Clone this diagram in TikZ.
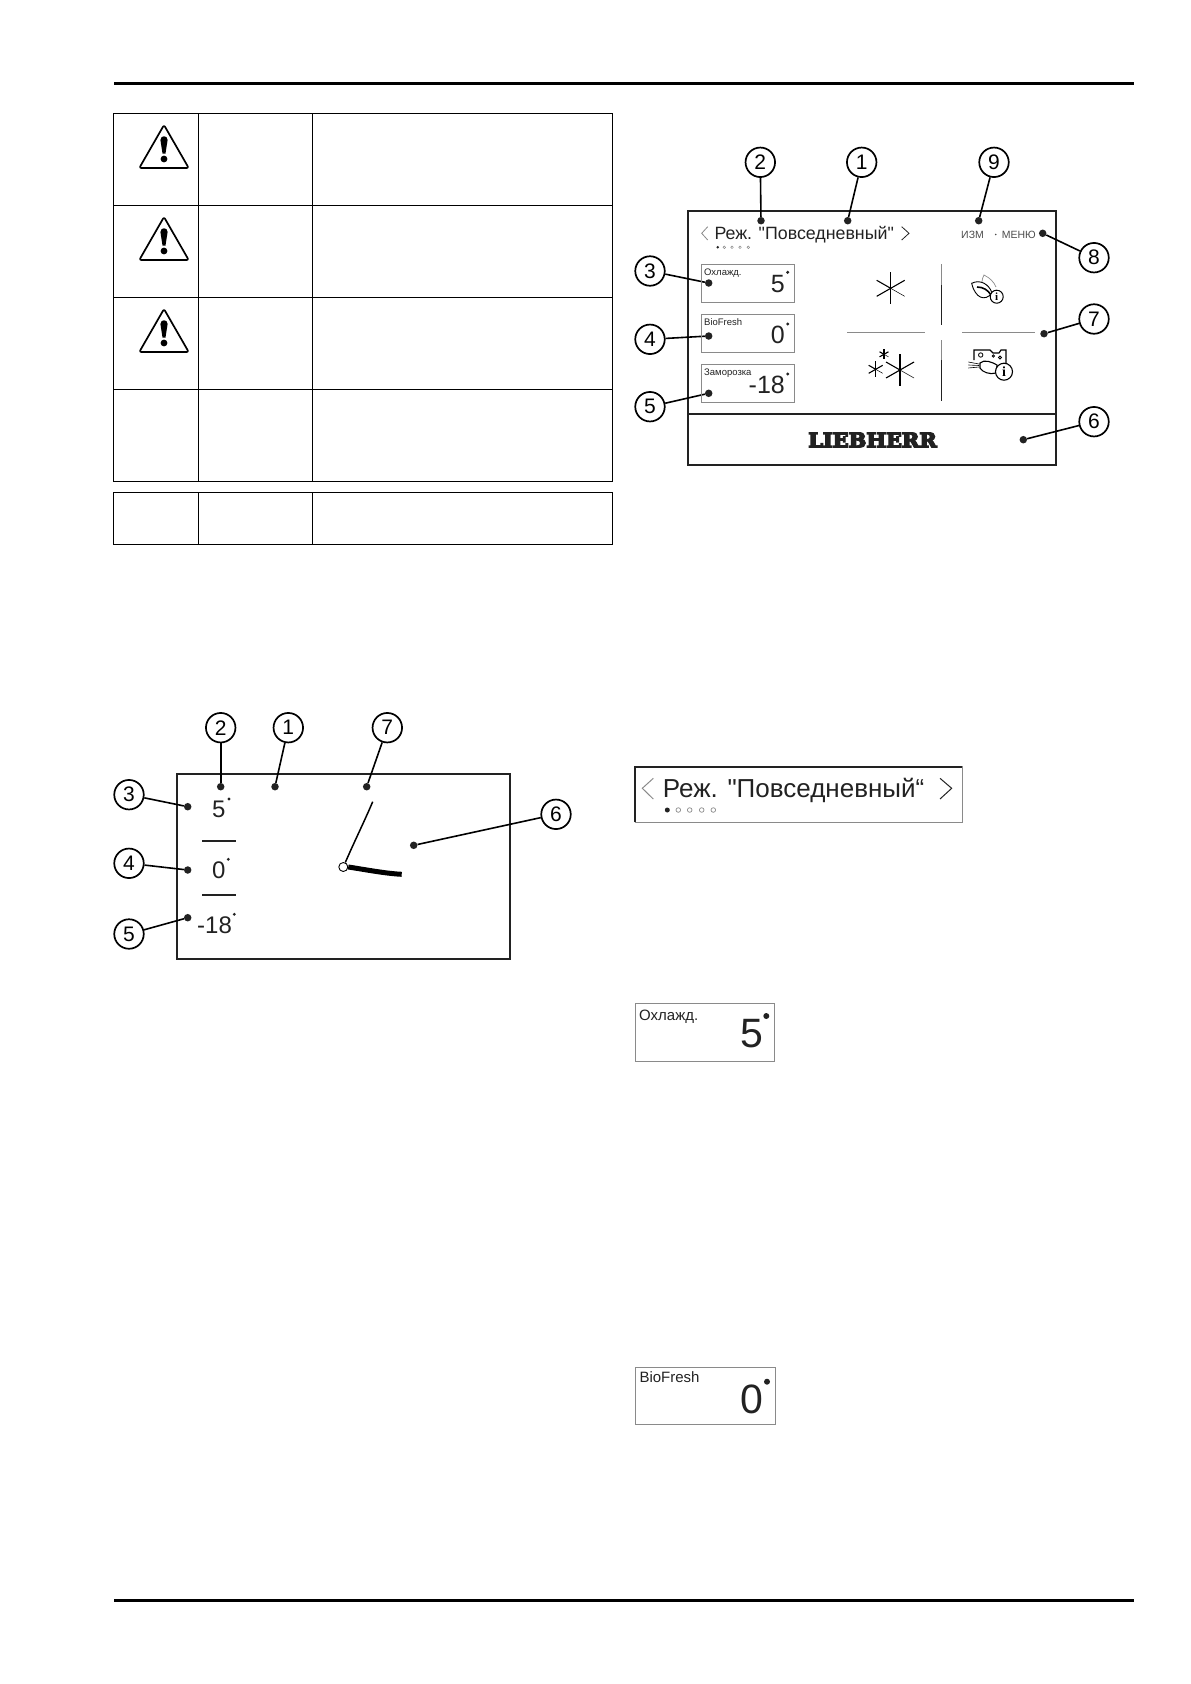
\documentclass[tikz,border=0pt]{standalone}
\usepackage{fontspec}
\defaultfontfeatures[\rmfamily]{}
\setmainfont{Liberation Sans}
\newfontfamily\logofont[BoldFeatures={FakeBold=7}]{DejaVu Serif}
\newfontfamily\infofont{Liberation Serif}
\usetikzlibrary{positioning}
\definecolor{inkgray}{HTML}{222222}
\definecolor{edgegray}{HTML}{8A8A8A}
\tikzset{
  tcell/.style={draw, rectangle, line width=1.3pt, inner sep=0pt, outer sep=0pt, anchor=north west},
  frame/.style={draw=inkgray, rectangle, line width=1.9pt, inner sep=0pt, outer sep=0pt, anchor=north west},
  tempbox/.style={draw=edgegray, rectangle, line width=1pt, inner sep=0pt, outer sep=0pt, anchor=north west, minimum width=93pt, minimum height=38.3pt},
  bigbox/.style={draw=edgegray, rectangle, line width=1pt, inner sep=0pt, outer sep=0pt, anchor=north west},
  numc/.style={draw, circle, line width=1.7pt, minimum size=29.5pt, inner sep=0pt, font=\fontsize{21}{21}\selectfont},
  pdot/.style={fill=inkgray, circle, minimum size=7.5pt, inner sep=0pt},
  sdot/.style={fill=inkgray, circle, minimum size=3.2pt, inner sep=0pt},
  bdot/.style={fill=inkgray, circle, minimum size=6pt, inner sep=0pt},
  odot/.style={draw=edgegray, circle, line width=.5pt, minimum size=2.6pt, inner sep=0pt},
  odotb/.style={draw=edgegray, circle, line width=.7pt, minimum size=4.6pt, inner sep=0pt},
  lead/.style={line width=1.6pt},
  rule/.style={line width=3pt},
  txt/.style={text=inkgray, inner sep=0pt, anchor=base west},
  chev/.style={line width=.8pt},
  sep/.style={draw=edgegray, line width=.8pt},
  warnsign/.pic={
    \draw[line width=1.7pt, rounded corners=2pt, line join=round] (0,0) -- (24.7,43) -- (-24.7,43) -- cycle;
    \fill (-3.6,15) .. controls (-3.6,10) and (3.6,10) .. (3.6,15) -- (1.5,28.5) -- (-1.5,28.5) -- cycle;
    \fill (0,34) circle (3.4);
  },
  flake/.pic={
    \draw[line width=1.1pt] (0,-16) -- (0,16);
    \draw[line width=1.1pt] (-14,8) -- (14,-8);
    \draw[line width=1.1pt] (-14,-8) -- (0,0);
    \draw[line width=.5pt] (0,0) -- (14,8);
  },
}
\begin{document}
\begin{tikzpicture}[x=1pt, y=-1pt]
\useasboundingbox (0,0) rectangle (1191,1684);

\coordinate (ruleAl) at (114,83);
\coordinate (ruleAr) at (1134,83);
\coordinate (ruleBl) at (114,1600);
\coordinate (ruleBr) at (1134,1600);
\draw[rule] (ruleAl) -- (ruleAr);
\draw[rule] (ruleBl) -- (ruleBr);

% table
\node[tcell, minimum width=85pt, minimum height=92pt] (rowAa) at (113.5,113.5) {};
\node[tcell, minimum width=114pt, minimum height=92pt, right=0pt of rowAa] (rowAb) {};
\node[tcell, minimum width=300pt, minimum height=92pt, right=0pt of rowAb] (rowAc) {};
\node[tcell, minimum width=85pt, minimum height=92pt, below=0pt of rowAa] (rowBa) {};
\node[tcell, minimum width=114pt, minimum height=92pt, right=0pt of rowBa] (rowBb) {};
\node[tcell, minimum width=300pt, minimum height=92pt, right=0pt of rowBb] (rowBc) {};
\node[tcell, minimum width=85pt, minimum height=92pt, below=0pt of rowBa] (rowCa) {};
\node[tcell, minimum width=114pt, minimum height=92pt, right=0pt of rowCa] (rowCb) {};
\node[tcell, minimum width=300pt, minimum height=92pt, right=0pt of rowCb] (rowCc) {};
\node[tcell, minimum width=85pt, minimum height=92pt, below=0pt of rowCa] (rowDa) {};
\node[tcell, minimum width=114pt, minimum height=92pt, right=0pt of rowDa] (rowDb) {};
\node[tcell, minimum width=300pt, minimum height=92pt, right=0pt of rowDb] (rowDc) {};
\node[tcell, minimum width=85pt, minimum height=52pt] (rowEa) at (113.5,492.3) {};
\node[tcell, minimum width=114pt, minimum height=52pt, right=0pt of rowEa] (rowEb) {};
\node[tcell, minimum width=300pt, minimum height=52pt, right=0pt of rowEb] (rowEc) {};
\pic at (164,125) {warnsign};
\pic at (164,217) {warnsign};
\pic at (164,309) {warnsign};

% clock screen
\node[frame, minimum width=333pt, minimum height=185pt] (clock) at (177,774) {};
\node[numc] (clk2) at (220.7,727.7) {2};
\node[numc] (clk1) at (288.3,727.7) {1};
\node[numc] (clk7) at (387.3,727.7) {7};
\node[numc] (clk3) at (129,794.7) {3};
\node[numc] (clk4) at (129,863.3) {4};
\node[numc] (clk5) at (129,934) {5};
\node[numc] (clk6) at (556,814.3) {6};
\node[pdot] (clkd2) at (220.7,786.7) {};
\node[pdot] (clkd1) at (275,786.7) {};
\node[pdot] (clkd7) at (366.7,786.7) {};
\node[pdot] (clkd3) at (187.7,806.7) {};
\node[pdot] (clkd4) at (187.7,870) {};
\node[pdot] (clkd5) at (187.7,917.7) {};
\node[pdot] (clkd6) at (413.7,845.3) {};
\draw[lead] (clk2) -- (clkd2);
\draw[lead] (clk1) -- (clkd1);
\draw[lead] (clk7) -- (clkd7);
\draw[lead] (clk3) -- (clkd3);
\draw[lead] (clk4) -- (clkd4);
\draw[lead] (clk5) -- (clkd5);
\draw[lead] (clk6) -- (clkd6);
\node[txt, font=\fontsize{24}{24}\selectfont] (clktA) at (212,817) {5};
\node[txt, font=\fontsize{24}{24}\selectfont] (clktB) at (212,878) {0};
\node[txt, font=\fontsize{24}{24}\selectfont] (clktC) at (197,933) {-18};
\node[sdot] (clkdgA) at (229,799) {};
\node[sdot] (clkdgB) at (228.3,859.3) {};
\node[sdot] (clkdgC) at (234.3,914.3) {};
\coordinate (clkAl) at (202.3,841);
\coordinate (clkAr) at (236,841);
\coordinate (clkBl) at (202.3,895);
\coordinate (clkBr) at (236,895);
\draw[line width=1.1pt, inkgray] (clkAl) -- (clkAr);
\draw[line width=1.1pt, inkgray] (clkBl) -- (clkBr);
\node[draw, fill=white, circle, line width=.9pt, minimum size=9pt, inner sep=0pt] (hub) at (343.3,867) {};
\coordinate (handA) at (372.7,801.7);
\coordinate (handB) at (401.7,874.3);
\draw[line width=1.5pt] (hub) .. controls (356,838) and (365,820) .. (handA);
\draw[line width=5pt] (hub.east) .. controls (362,869) and (385,873.5) .. (handB);

% home screen
\node[frame, minimum width=368pt, minimum height=253.7pt] (home) at (688,211.3) {};
\coordinate (homeL) at (688,414);
\coordinate (homeR) at (1056,414);
\draw[line width=1.9pt, inkgray] (homeL) -- (homeR);
\node[numc] (hom2) at (760.3,162.3) {2};
\node[numc] (hom1) at (861.7,162.3) {1};
\node[numc] (hom9) at (994,162.3) {9};
\node[numc] (hom8) at (1094,257.7) {8};
\node[numc] (hom3) at (650,271) {3};
\node[numc] (hom4) at (650,339.3) {4};
\node[numc] (hom5) at (650,406.7) {5};
\node[numc] (hom7) at (1094,319) {7};
\node[numc] (hom6) at (1094,421.7) {6};
\node[txt, font=\fontsize{17.8}{18}\selectfont] (homtitle) at (714.3,239.3) {Реж. "Повседневный"};
\node[pdot] (homd2) at (761,220.7) {};
\node[pdot] (homd1) at (847.7,220.7) {};
\node[pdot] (homd9) at (978.7,220.7) {};
\node[pdot] (homd8) at (1042.7,233.3) {};
\node[pdot] (homd3) at (708.7,283) {};
\node[pdot] (homd4) at (708.7,336) {};
\node[pdot] (homd5) at (708.7,393.3) {};
\node[pdot] (homd7) at (1044,333.7) {};
\node[pdot] (homd6) at (1023.3,439.7) {};
\draw[lead] (hom2) -- (homd2);
\draw[lead] (hom1) -- (homd1);
\draw[lead] (hom9) -- (homd9);
\draw[lead] (hom8) -- (homd8);
\draw[lead] (hom3) -- (homd3);
\draw[lead] (hom4) -- (homd4);
\draw[lead] (hom5) -- (homd5);
\draw[lead] (hom7) -- (homd7);
\draw[lead] (hom6) -- (homd6);
\draw[chev, edgegray] (707.7,226.7) -- (701.7,233.3) -- (707.7,240);
\draw[chev, inkgray] (901.7,226.7) -- (909,233.3) -- (901.7,240);
\node[sdot, minimum size=2.8pt] (homp1) at (717.7,247.3) {};
\node[odot] (homp2) at (724.3,247.3) {};
\node[odot] (homp3) at (732,247.3) {};
\node[odot] (homp4) at (740,247.3) {};
\node[odot] (homp5) at (748.3,247.3) {};
\node[txt, text=black!70, font=\fontsize{10.5}{10.5}\selectfont] (homchg) at (961,238.7) {ИЗМ};
\node[sdot, minimum size=1.6pt, fill=black!70] (homsep) at (995.7,234.5) {};
\node[txt, text=black!70, font=\fontsize{10.5}{10.5}\selectfont] (hommenu) at (1001.7,238.7) {МЕНЮ};

\node[tempbox] (boxA) at (701.3,264) {};
\node[tempbox] (boxB) at (701.3,314.3) {};
\node[tempbox] (boxC) at (701.3,364.3) {};
\node[txt, font=\fontsize{9.5}{9.5}\selectfont] (boxAl) at (704,275) {Охлажд.};
\node[txt, font=\fontsize{9.5}{9.5}\selectfont] (boxBl) at (704,325) {BioFresh};
\node[txt, font=\fontsize{9.5}{9.5}\selectfont] (boxCl) at (704,375) {Заморозка};
\node[txt, anchor=base east, font=\fontsize{25}{25}\selectfont] (boxAn) at (785,292.3) {5};
\node[txt, anchor=base east, font=\fontsize{25}{25}\selectfont] (boxBn) at (785,343) {0};
\node[txt, anchor=base east, font=\fontsize{25}{25}\selectfont] (boxCn) at (785,393.3) {-18};
\node[bdot, minimum size=3.4pt] (boxAd) at (787.7,272.3) {};
\node[bdot, minimum size=3.4pt] (boxBd) at (787.7,324) {};
\node[bdot, minimum size=3.4pt] (boxCd) at (787.7,374) {};

\coordinate (sepAt) at (941.3,264.3);
\coordinate (sepAm) at (941.3,285);
\coordinate (sepAb) at (941.3,325);
\coordinate (sepBt) at (941.3,340);
\coordinate (sepBm) at (941.3,360);
\coordinate (sepBb) at (941.3,400.7);
\coordinate (sepCl) at (847.3,332.3);
\coordinate (sepCr) at (924.7,332.3);
\coordinate (sepDl) at (962.3,332.3);
\coordinate (sepDr) at (1035,332.3);
\draw[sep] (sepAt) -- (sepAm);
\draw[line width=1pt, inkgray] (sepAm) -- (sepAb);
\draw[sep] (sepBt) -- (sepBm);
\draw[line width=1pt, inkgray] (sepBm) -- (sepBb);
\draw[sep] (sepCl) -- (sepCr);
\draw[sep] (sepDl) -- (sepDr);

\pic at (890.7,288.3) {flake};
\pic at (900,370) {flake};
\pic[scale=.5] at (875.7,369.3) {flake};
\pic[scale=.32, line width=1.6pt] at (884,354.3) {flake};

% leaf icon
\draw[line width=.7pt, edgegray] (982,283) .. controls (982,279) and (983,277) .. (984,275) .. controls (990,278) and (994,282) .. (996,287);
\draw[line width=.9pt, fill=white] (971.7,283.3) .. controls (980,279) and (989,284) .. (992,293) .. controls (985,302) and (975,298) .. cycle;
\draw[line width=1.6pt] (977,287) .. controls (983,287) and (988,290) .. (991,295);
\node[draw, fill=white, circle, line width=1pt, minimum size=13pt, inner sep=0pt, font=\infofont\bfseries\fontsize{11}{11}\selectfont] (leafinfo) at (996.7,296.7) {i};

% cheese icon
\draw[line width=1.2pt] (974,360) -- (974,350) -- (990,350) -- (993,353) -- (999,353) -- (1001,350) -- (1006,350) -- (1006,363);
\draw[line width=.8pt] (980.7,355) circle (2.2);
\draw[line width=.8pt] (993.3,356) circle (1.2);
\draw[line width=.8pt] (1000,357.5) circle (1.5);
\draw[line width=1.1pt, fill=white] (980,363) .. controls (984,359) and (992,362) .. (997,365) -- (996,373) .. controls (990,375) and (982,372) .. (980,368) -- cycle;
\draw[line width=.6pt] (968.3,362) -- (979,364);
\draw[line width=.6pt] (968.3,365) -- (979,365.5);
\draw[line width=.6pt] (968.3,368) -- (979,367);
\node[draw, fill=white, circle, line width=1.1pt, minimum size=17pt, inner sep=0pt, font=\infofont\bfseries\fontsize{14}{14}\selectfont] (cheeseinfo) at (1004,371.7) {i};

\node[inner sep=0pt, text=inkgray] (logo) at (872.5,440) {\resizebox{128.4pt}{14.5pt}{\logofont\bfseries LIEBHERR}};

% title bar
\node[bigbox, minimum width=327pt, minimum height=55.6pt] (bar) at (635,766.7) {};
\draw[line width=1.9pt, inkgray] (bar.south west) -- (bar.north west) -- (bar.north east);
\node[txt, font=\fontsize{26}{26}\selectfont] (bartitle) at (662.7,797.7) {Реж. "Повседневный“};
\draw[line width=1pt, edgegray] (653.3,778.3) -- (642.3,788.3) -- (653.3,799);
\draw[line width=1pt, inkgray] (940,778.3) -- (951.7,788.3) -- (940,799);
\node[bdot, minimum size=5pt] (barp1) at (667.3,810) {};
\node[odotb] (barp2) at (678.3,810) {};
\node[odotb] (barp3) at (689.7,810) {};
\node[odotb] (barp4) at (701.7,810) {};
\node[odotb] (barp5) at (713.3,810) {};

% temperature boxes
\node[bigbox, minimum width=139.4pt, minimum height=58.4pt] (coolbox) at (635.3,1003.3) {};
\node[txt, font=\fontsize{15}{15}\selectfont] (cooltxt) at (639,1020.7) {Охлажд.};
\node[txt, anchor=base east, font=\fontsize{41}{41}\selectfont] (coolnum) at (763,1047.7) {5};
\node[bdot] (cooldeg) at (766.3,1016) {};
\node[bigbox, minimum width=140pt, minimum height=56.3pt] (biobox) at (635.3,1367.7) {};
\node[txt, font=\fontsize{15}{15}\selectfont] (biotxt) at (639.3,1382.7) {BioFresh};
\node[txt, anchor=base east, font=\fontsize{41}{41}\selectfont] (bionum) at (763,1413.3) {0};
\node[bdot] (biodeg) at (767,1381.7) {};

\end{tikzpicture}
\end{document}
